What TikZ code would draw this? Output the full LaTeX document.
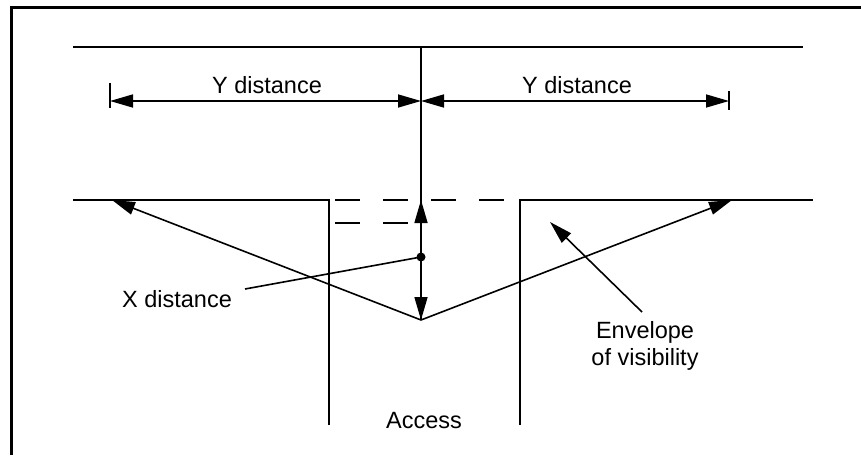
\documentclass[tikz,border=0pt]{standalone}
\usepackage{fontspec}
\setmainfont{Liberation Sans}
\usetikzlibrary{arrows.meta}
\begin{document}
\begin{tikzpicture}[x=1pt,y=-1pt,
  lbl/.style={font=\fontsize{23.5}{27}\selectfont, inner sep=0pt, align=center},
  road/.style={line width=2.3pt},
  thinline/.style={line width=1.6pt},
  tipend/.style={-{Triangle[length=23pt,width=13pt]}},
  bothtips/.style={{Triangle[length=23pt,width=13pt]}-{Triangle[length=23pt,width=13pt]}},
  dashline/.style={line width=2pt, dash pattern=on 25pt off 23pt}
]
\useasboundingbox (0,0) rectangle (861,455);
% frame (top and left edges)
\coordinate (FR) at (861,7); \coordinate (FC) at (11,7); \coordinate (FB) at (11,455);
\draw[line width=3pt] (FR) -- (FC) -- (FB);

% roads
\coordinate (TL) at (73,47); \coordinate (TR) at (803,47);
\coordinate (LL) at (73,200); \coordinate (LC) at (329,200); \coordinate (LB) at (329,425);
\coordinate (RC) at (520,200); \coordinate (RR) at (813,200); \coordinate (RB) at (520,425);
\draw[road] (TL) -- (TR);
\draw[road] (LL) -- (LC) -- (LB);
\draw[road] (RB) -- (RC) -- (RR);

% dashed lines
\coordinate (D1a) at (335,200); \coordinate (D1b) at (507,200);
\coordinate (D2a) at (335,223); \coordinate (D2b) at (410,223);
\draw[dashline] (D1a) -- (D1b);
\draw[dashline] (D2a) -- (D2b);

% centre line and X distance
\coordinate (C0) at (421,47); \coordinate (A) at (421,320);
\coordinate (D) at (421,257); \coordinate (CT) at (421,200);
\draw[thinline] (C0) -- (A);
\draw[thinline,tipend] (D) -- (CT);
\draw[thinline,tipend] (D) -- (A);
\fill (D) circle (4.5pt);

% Y distance dimension
\coordinate (YL) at (110,101); \coordinate (YM) at (421,101); \coordinate (YR) at (729,101);
\coordinate (TkL1) at (110,83); \coordinate (TkL2) at (110,108);
\coordinate (TkR1) at (729,91); \coordinate (TkR2) at (729,110);
\draw[line width=1.3pt] (TkL1) -- (TkL2);
\draw[line width=1.3pt] (TkR1) -- (TkR2);
\draw[thinline,bothtips] (YL) -- (YM);
\draw[thinline,bothtips] (YM) -- (YR);
\node[lbl, anchor=base] (Y1) at (267,93) {Y distance};
\node[lbl, anchor=base] (Y2) at (577,93) {Y distance};

% sight lines
\coordinate (SL) at (112,200); \coordinate (SR) at (732,200);
\draw[thinline,tipend] (A) -- (SL);
\draw[thinline,tipend] (A) -- (SR);

% labels and leaders
\node[lbl, anchor=base] (Xd) at (177,307) {X distance};
\coordinate (XL) at (245,289);
\draw[thinline] (XL) -- (D);

\node[lbl, anchor=north] (Env) at (645,321) {Envelope\\of visibility};
\coordinate (E1) at (642,312); \coordinate (E2) at (550,222);
\draw[thinline,tipend] (E1) -- (E2);

\node[lbl, anchor=base] (Acc) at (424,428) {Access};
\end{tikzpicture}
\end{document}
